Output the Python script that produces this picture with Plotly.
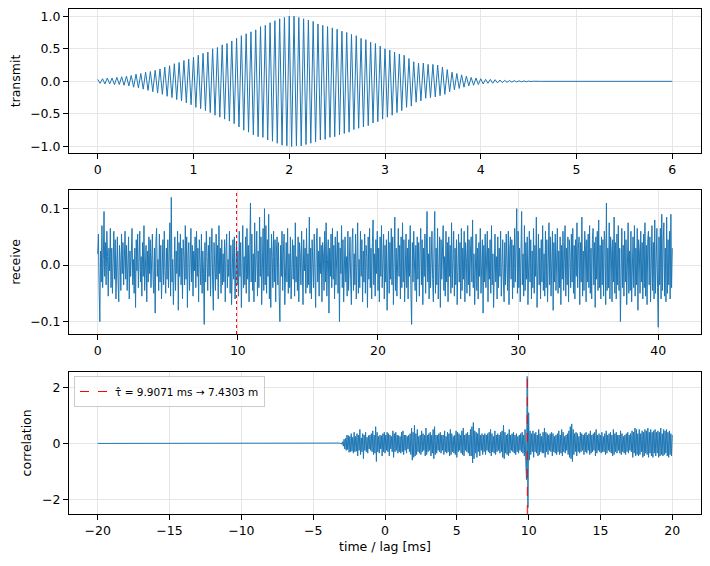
import numpy as np
import plotly.graph_objects as go
from plotly.subplots import make_subplots

# transmitted pulse, one value per half cycle (dt = 0.025 ms)
tx_dt = 0.025
tx_vals = [
    0.03, -0.03, 0.04, -0.04, 0.05, -0.04, 0.05, -0.05, 0.06, -0.05, 0.07, -0.06,
    0.08, -0.07, 0.09, -0.09, 0.11, -0.10, 0.12, -0.12, 0.14, -0.14, 0.15, -0.16,
    0.17, -0.18, 0.19, -0.20, 0.22, -0.23, 0.24, -0.25, 0.27, -0.28, 0.29, -0.30,
    0.32, -0.33, 0.34, -0.36, 0.37, -0.40, 0.40, -0.42, 0.43, -0.45, 0.45, -0.48,
    0.50, -0.52, 0.52, -0.55, 0.56, -0.58, 0.58, -0.61, 0.62, -0.65, 0.66, -0.70,
    0.70, -0.75, 0.73, -0.78, 0.76, -0.82, 0.79, -0.85, 0.84, -0.86, 0.86, -0.90,
    0.90, -0.92, 0.93, -0.95, 0.96, -0.98, 0.98, -0.99, 1.00, -1.00, 1.00, -0.99,
    0.98, -0.99, 0.96, -0.97, 0.94, -0.95, 0.92, -0.93, 0.88, -0.90, 0.86, -0.89,
    0.84, -0.86, 0.82, -0.85, 0.80, -0.82, 0.77, -0.80, 0.75, -0.78, 0.72, -0.74,
    0.70, -0.72, 0.66, -0.70, 0.64, -0.68, 0.60, -0.64, 0.58, -0.62, 0.54, -0.58,
    0.50, -0.55, 0.48, -0.52, 0.45, -0.48, 0.42, -0.45, 0.40, -0.40, 0.35, -0.38,
    0.30, -0.32, 0.28, -0.30, 0.28, -0.26, 0.26, -0.25, 0.26, -0.24, 0.25, -0.22,
    0.22, -0.20, 0.18, -0.16, 0.14, -0.13, 0.12, -0.11, 0.10, -0.09, 0.08, -0.07,
    0.06, -0.06, 0.05, -0.05, 0.04, -0.04, 0.03, -0.03, 0.03, -0.03, 0.025, -0.025,
    0.02, -0.02, 0.015, -0.015, 0.012, -0.012, 0.01, -0.01, 0.008, -0.007, 0.006, -0.005,
    0.004, -0.003, 0.002, -0.002,
    0.0, 0.0, 0.0, 0.0, 0.0, 0.0, 0.0, 0.0, 0.0, 0.0, 0.0, 0.0, 0.0, 0.0, 0.0, 0.0,
    0.0, 0.0, 0.0, 0.0, 0.0, 0.0, 0.0, 0.0, 0.0, 0.0, 0.0, 0.0, 0.0, 0.0, 0.0, 0.0,
    0.0, 0.0, 0.0, 0.0, 0.0, 0.0, 0.0, 0.0, 0.0, 0.0, 0.0, 0.0, 0.0, 0.0, 0.0, 0.0,
    0.0, 0.0, 0.0, 0.0, 0.0, 0.0, 0.0, 0.0, 0.0,
]

# received signal, 0.05 ms sampling (one row = 1 ms)
rx_dt = 0.05
rx_vals = [
    0.02, 0.055, -0.045, -0.1, 0.025, -0.03, 0.07, -0.04, 0.01, 0.095, -0.02, 0.04, -0.035, 0.06, 0.015, -0.055, 0.03, -0.01, 0.065, -0.04,
    0.03, -0.05, 0.005, 0.06, -0.025, 0.045, -0.06, 0.02, 0.05, -0.03, -0.065, 0.035, 0.01, -0.045, 0.055, -0.015, 0.04, -0.035, 0.02, 0.06,
    -0.025, 0.035, -0.045, 0.015, 0.05, -0.06, 0.025, -0.02, 0.04, 0.065, -0.035, 0.01, -0.05, 0.03, -0.075, 0.045, -0.01, 0.055, -0.04, 0.02,
    0.06, -0.03, 0.015, -0.055, 0.04, -0.02, 0.07, -0.045, 0.005, 0.035, -0.065, 0.025, -0.03, 0.05, -0.015, 0.045, -0.04, 0.02, 0.055, -0.025,
    -0.05, 0.03, -0.085, 0.04, 0.065, -0.02, 0.01, -0.045, 0.055, -0.03, 0.035, -0.06, 0.02, 0.045, -0.035, 0.06, -0.01, -0.05, 0.03, -0.025,
    0.045, -0.04, 0.02, 0.075, -0.055, 0.12, -0.03, 0.01, -0.07, 0.035, 0.05, -0.045, 0.025, -0.015, 0.06, -0.08, 0.04, -0.02, 0.055, -0.035,
    0.03, -0.06, 0.045, 0.015, -0.035, 0.07, -0.025, 0.05, -0.075, 0.02, 0.04, -0.045, 0.01, 0.065, -0.03, 0.035, -0.055, 0.025, -0.01, 0.05,
    -0.04, 0.06, -0.02, 0.03, -0.065, 0.045, 0.005, -0.035, 0.055, -0.05, 0.025, -0.015, -0.105, 0.04, -0.03, 0.06, 0.015, -0.045, 0.035, -0.02,
    0.05, -0.055, 0.02, 0.065, -0.03, -0.08, 0.04, 0.01, -0.045, 0.055, -0.025, 0.035, -0.06, 0.07, -0.015, 0.03, -0.05, 0.045, -0.035, 0.02,
    -0.03, 0.045, -0.065, 0.025, 0.055, -0.04, 0.01, -0.02, 0.06, -0.05, 0.035, -0.07, 0.03, 0.045, -0.025, 0.05, -0.06, 0.015, 0.04, -0.035,
    0.025, -0.055, 0.06, -0.02, 0.04, -0.075, 0.03, 0.07, -0.04, 0.015, -0.035, 0.05, -0.05, 0.065, -0.025, 0.035, -0.065, 0.045, 0.11, -0.03,
    0.055, -0.045, 0.02, -0.065, 0.075, -0.03, 0.04, 0.06, -0.055, 0.025, -0.04, 0.085, -0.02, 0.05, -0.07, 0.035, 0.065, -0.045, 0.1, -0.035,
    0.07, -0.05, 0.045, -0.02, 0.09, -0.06, 0.03, -0.075, 0.055, 0.015, -0.04, 0.06, -0.03, 0.045, -0.065, 0.025, 0.05, -0.035, 0.04, -0.055,
    -0.1, 0.035, -0.02, 0.06, -0.045, 0.025, 0.055, -0.07, 0.01, 0.04, -0.03, 0.065, -0.05, 0.02, -0.04, 0.05, -0.06, 0.03, 0.045, -0.025,
    0.035, -0.055, 0.075, -0.03, 0.015, -0.045, 0.05, -0.065, 0.04, 0.02, -0.035, 0.06, -0.02, -0.07, 0.045, -0.01, 0.03, -0.05, 0.065, -0.04,
    0.02, -0.035, 0.085, -0.05, 0.03, -0.06, 0.045, 0.01, -0.04, 0.055, -0.025, -0.075, 0.04, 0.065, -0.03, 0.025, -0.055, 0.05, -0.015, 0.035,
    -0.065, 0.04, 0.02, -0.045, 0.06, -0.03, 0.075, -0.055, 0.01, 0.045, -0.085, 0.03, -0.02, 0.055, -0.04, 0.065, -0.025, 0.035, -0.06, 0.05,
    -0.035, 0.02, 0.06, -0.05, 0.04, -0.1, 0.03, -0.015, 0.07, -0.04, 0.045, -0.065, 0.025, 0.05, -0.03, 0.015, -0.055, 0.06, -0.045, 0.035,
    0.05, -0.025, -0.07, 0.04, 0.065, -0.045, 0.02, -0.035, 0.055, -0.06, 0.03, 0.075, -0.05, 0.01, -0.04, 0.06, -0.02, 0.045, -0.065, 0.025,
    -0.03, 0.055, -0.05, 0.035, 0.015, -0.075, 0.05, -0.025, 0.065, -0.04, 0.03, -0.06, 0.04, 0.08, -0.035, 0.02, -0.055, 0.045, -0.015, 0.06,
    -0.045, 0.03, -0.065, 0.05, -0.02, 0.07, -0.04, 0.015, 0.055, -0.06, 0.035, -0.03, 0.045, -0.08, 0.025, 0.06, -0.05, 0.04, -0.025, 0.065,
    -0.035, 0.05, -0.07, 0.02, 0.085, -0.045, 0.03, -0.055, 0.04, 0.065, -0.02, 0.035, -0.06, 0.05, -0.04, 0.075, -0.03, 0.045, -0.065, 0.025,
    0.055, -0.04, 0.03, -0.06, 0.045, -0.02, 0.07, -0.05, -0.105, 0.04, -0.03, 0.06, 0.015, -0.045, 0.035, -0.065, 0.05, -0.025, 0.04, -0.055,
    0.025, 0.065, -0.035, 0.045, -0.07, 0.03, -0.02, 0.055, -0.05, 0.04, 0.095, -0.03, 0.02, -0.06, 0.05, -0.04, 0.035, 0.06, -0.025, -0.065,
    0.04, 0.095, -0.05, 0.03, -0.035, 0.065, -0.06, 0.02, 0.05, -0.075, 0.045, -0.025, 0.035, 0.07, -0.045, 0.015, -0.055, 0.06, -0.03, 0.04,
    -0.065, 0.05, -0.02, 0.035, -0.05, 0.075, -0.04, 0.025, 0.06, -0.055, 0.03, -0.035, 0.045, -0.07, 0.02, 0.055, -0.03, 0.04, -0.06, 0.065,
    -0.045, 0.03, -0.025, 0.06, -0.065, 0.04, 0.015, -0.05, 0.07, -0.035, 0.045, -0.055, 0.025, 0.05, -0.03, 0.08, -0.04, 0.02, -0.07, 0.035,
    0.055, -0.045, 0.03, -0.06, 0.04, -0.02, 0.065, -0.05, 0.025, 0.045, -0.085, 0.035, -0.03, 0.055, -0.04, 0.02, 0.06, -0.065, 0.03, -0.025,
    0.045, -0.05, 0.07, -0.035, 0.02, -0.075, 0.04, 0.055, -0.03, 0.015, -0.06, 0.05, -0.04, 0.03, -0.02, 0.06, -0.055, 0.035, 0.045, -0.03,
    -0.065, 0.04, -0.035, 0.055, 0.02, -0.045, 0.06, -0.07, 0.03, 0.05, -0.025, 0.045, -0.06, 0.035, -0.04, 0.065, -0.03, 0.02, 0.1, -0.05,
    0.06, -0.04, 0.03, -0.065, 0.045, 0.095, -0.035, 0.02, -0.055, 0.07, -0.045, 0.04, -0.025, 0.05, -0.07, 0.035, 0.06, -0.03, 0.045, -0.06,
    0.025, -0.04, 0.065, -0.05, 0.035, -0.02, 0.085, -0.075, 0.04, 0.055, -0.035, 0.03, -0.06, 0.045, -0.03, 0.07, -0.045, 0.02, -0.055, 0.06,
    -0.04, 0.045, -0.065, 0.03, 0.075, -0.035, 0.05, -0.055, 0.02, 0.06, -0.08, 0.04, -0.03, 0.055, -0.045, 0.035, 0.065, -0.05, 0.025, -0.04,
    0.05, -0.07, 0.035, -0.025, 0.06, -0.045, 0.04, 0.07, -0.055, 0.03, -0.035, 0.05, -0.065, 0.045, 0.02, -0.04, 0.055, -0.03, 0.065, -0.05,
    0.035, -0.06, 0.045, -0.02, 0.075, -0.04, 0.03, 0.05, -0.07, 0.04, -0.03, 0.085, -0.055, 0.025, -0.045, 0.06, 0.035, -0.065, 0.045, -0.03,
    0.055, -0.04, 0.07, -0.05, 0.03, -0.06, 0.045, 0.065, -0.035, 0.04, -0.075, 0.05, -0.025, 0.06, -0.045, 0.08, -0.04, 0.035, -0.06, 0.05,
    -0.035, 0.045, -0.055, 0.06, 0.04, -0.07, 0.11, -0.045, 0.03, -0.04, 0.075, -0.06, 0.05, 0.025, -0.065, 0.045, -0.03, 0.085, -0.05, 0.04,
    -0.06, 0.055, -0.035, 0.07, -0.045, 0.03, -0.1, 0.05, 0.065, -0.04, 0.035, -0.055, 0.06, -0.03, 0.045, -0.07, 0.04, 0.075, -0.05, 0.025,
    -0.045, 0.06, -0.065, 0.035, 0.05, -0.04, 0.07, -0.055, 0.03, -0.035, 0.065, -0.08, 0.045, 0.025, -0.05, 0.06, -0.03, 0.04, -0.06, 0.055,
    -0.04, 0.075, -0.055, 0.035, -0.07, 0.045, 0.06, -0.035, 0.05, -0.065, 0.03, 0.07, -0.045, 0.04, -0.06, 0.08, -0.05, 0.035, 0.065, -0.04,
    -0.11, 0.05, -0.035, 0.065, -0.06, 0.09, -0.045, 0.04, 0.075, -0.055, 0.03, -0.065, 0.085, -0.05, 0.045, -0.035, 0.06, -0.06, 0.09, -0.04,
    0.03,
]

# cross-correlation: flat from -20 ms, then 0.05 ms samples from -4 ms (one row = 1 ms)
corr_start = -20.0
corr_dense_from = -4.0
corr_dt = 0.05
corr_vals = [
    0.0, 0.001, -0.001, 0.002, -0.002, 0.002, -0.003, 0.003, -0.004, 0.004, -0.005, 0.006, -0.006, 0.008, -0.008, 0.01, -0.01, 0.012, -0.015, 0.02,
    -0.03, 0.06, -0.1, 0.15, -0.2, 0.18, -0.25, 0.3, -0.22, 0.28, -0.32, 0.25, -0.3, 0.35, -0.28, 0.22, -0.35, 0.4, -0.3, 0.25,
    -0.28, 0.35, -0.45, 0.3, -0.25, 0.5, -0.4, 0.2, -0.3, 0.35, -0.55, 0.3, -0.25, 0.4, -0.3, 0.22, -0.35, 0.28, -0.2, 0.3,
    -0.25, 0.35, -0.3, 0.45, -0.4, 0.3, -0.35, 0.6, -0.65, 0.4, -0.3, 0.25, -0.35, 0.3, -0.2, 0.28, -0.45, 0.35, -0.3, 0.4,
    -0.35, 0.3, -0.25, 0.4, -0.3, 0.35, -0.45, 0.3, -0.2, 0.25, -0.3, 0.45, -0.5, 0.35, -0.3, 0.4, -0.25, 0.3, -0.35, 0.28,
    -0.3, 0.25, -0.35, 0.4, -0.3, 0.45, -0.4, 0.3, -0.25, 0.3, -0.35, 0.25, -0.2, 0.3, -0.3, 0.35, -0.4, 0.55, -0.6, 0.4,
    -0.5, 0.65, -0.45, 0.35, -0.4, 0.5, -0.3, 0.25, -0.35, 0.3, -0.4, 0.45, -0.3, 0.35, -0.25, 0.3, -0.45, 0.55, -0.4, 0.3,
    -0.3, 0.35, -0.25, 0.4, -0.45, 0.3, -0.35, 0.5, -0.55, 0.6, -0.4, 0.3, -0.35, 0.3, -0.25, 0.35, -0.3, 0.4, -0.35, 0.3,
    -0.25, 0.3, -0.4, 0.45, -0.3, 0.25, -0.35, 0.4, -0.3, 0.35, -0.45, 0.5, -0.4, 0.35, -0.3, 0.25, -0.35, 0.3, -0.4, 0.45,
    -0.5, 0.4, -0.3, 0.35, -0.25, 0.3, -0.35, 0.45, -0.4, 0.55, -0.45, 0.3, -0.25, 0.35, -0.3, 0.4, -0.35, 0.3, -0.45, 0.5,
    -0.45, 0.6, -0.7, 0.75, -0.55, 0.45, -0.35, 0.4, -0.5, 0.35, -0.3, 0.55, -0.45, 0.3, -0.25, 0.35, -0.4, 0.3, -0.3, 0.35,
    -0.4, 0.3, -0.25, 0.35, -0.3, 0.4, -0.35, 0.5, -0.45, 0.35, -0.3, 0.25, -0.35, 0.45, -0.4, 0.3, -0.3, 0.35, -0.25, 0.3,
    -0.35, 0.4, -0.3, 0.45, -0.5, 0.65, -0.55, 0.4, -0.35, 0.3, -0.4, 0.35, -0.45, 0.5, -0.35, 0.3, -0.25, 0.35, -0.3, 0.4,
    -0.35, 0.3, -0.4, 0.35, -0.3, 0.25, -0.35, 0.3, -0.25, 0.35, -0.3, 0.4, -0.35, 0.3, -0.45, 0.5, -0.6, -1.3, 2.4, -2.3,
    1.1, -0.6, 0.45, -0.4, 0.35, -0.3, 0.45, -0.5, 0.35, -0.3, 0.4, -0.35, 0.3, -0.45, 0.5, -0.4, 0.35, -0.3, 0.25, -0.35,
    0.4, -0.35, 0.55, -0.5, 0.4, -0.3, 0.35, -0.4, 0.3, -0.25, 0.35, -0.3, 0.4, -0.45, 0.35, -0.3, 0.25, -0.35, 0.3, -0.4,
    0.35, -0.3, 0.45, -0.4, 0.3, -0.35, 0.5, -0.45, 0.4, -0.3, 0.25, -0.35, 0.3, -0.25, 0.35, -0.4, 0.45, -0.5, 0.6, -0.55,
    0.7, -0.65, 0.5, -0.4, 0.35, -0.3, 0.4, -0.45, 0.35, -0.3, 0.25, -0.35, 0.4, -0.3, 0.35, -0.25, 0.3, -0.4, 0.35, -0.3,
    0.4, -0.35, 0.3, -0.25, 0.35, -0.4, 0.45, -0.35, 0.3, -0.3, 0.35, -0.25, 0.4, -0.45, 0.5, -0.35, 0.3, -0.25, 0.35, -0.3,
    0.3, -0.35, 0.4, -0.3, 0.25, -0.3, 0.35, -0.4, 0.45, -0.35, 0.3, -0.25, 0.35, -0.3, 0.4, -0.35, 0.3, -0.45, 0.5, -0.4,
    0.35, -0.3, 0.4, -0.35, 0.3, -0.25, 0.3, -0.35, 0.45, -0.4, 0.35, -0.3, 0.25, -0.35, 0.3, -0.4, 0.35, -0.3, 0.4, -0.35,
    0.3, -0.25, 0.35, -0.3, 0.45, -0.5, 0.4, -0.35, 0.55, -0.45, 0.5, -0.4, 0.35, -0.45, 0.5, -0.4, 0.35, -0.3, 0.45, -0.5,
    0.4, -0.45, 0.5, -0.35, 0.45, -0.4, 0.55, -0.5, 0.4, -0.35, 0.5, -0.45, 0.4, -0.5, 0.45, -0.35, 0.5, -0.45, 0.4, -0.35,
    0.45, -0.5, 0.4, -0.45, 0.55, -0.4, 0.35, -0.45, 0.5, -0.4, 0.45, -0.35, 0.5, -0.45, 0.4, -0.5, 0.45, -0.4, 0.35, -0.45,
    0.3,
]

tau_ms = 9.9071
dist_m = 7.4303

t_tx = np.round(np.arange(len(tx_vals)) * tx_dt, 4)
t_rx = np.round(np.arange(len(rx_vals)) * rx_dt, 4)
lag = np.concatenate([[corr_start], np.round(corr_dense_from + np.arange(len(corr_vals)) * corr_dt, 4)])
corr_y = [0.0] + corr_vals

blue = "#1f77b4"
# the page body adds 8px around the plot div, so draw 8px smaller and shift
W, H = 702, 558
off = 8

fig = make_subplots(rows=3, cols=1)
fig.add_trace(go.Scatter(x=t_tx, y=tx_vals, mode="lines", line=dict(color=blue, width=1), showlegend=False), row=1, col=1)
fig.add_trace(go.Scatter(x=t_rx, y=rx_vals, mode="lines", line=dict(color=blue, width=1), showlegend=False), row=2, col=1)
fig.add_trace(go.Scatter(x=lag, y=corr_y, mode="lines", line=dict(color=blue, width=1), showlegend=False), row=3, col=1)

fig.add_vline(x=tau_ms, line=dict(color="red", dash="dot", width=1), row=2, col=1)
fig.add_vline(x=tau_ms, line=dict(color="red", dash="dash", width=1), row=3, col=1,
              showlegend=True, name="τ̂ = %.4f ms → %.4f m" % (tau_ms, dist_m))

# pixel boxes of the three axes in the 710x566 window (top, bottom)
xl, xr = 69 - off, 701 - off
boxes = [(9, 153), (190, 334), (371.7, 514)]
for i, (top, bot) in enumerate(boxes, start=1):
    fig.update_xaxes(domain=[xl / W, xr / W], row=i, col=1)
    fig.update_yaxes(domain=[(H - (bot - off)) / H, (H - (top - off)) / H], row=i, col=1)

fs = 12.5
axis_style = dict(showline=True, mirror=True, linecolor="black", linewidth=1,
                  ticks="outside", ticklen=5, tickcolor="black", showgrid=True,
                  gridcolor="#e6e6e6", gridwidth=1, zeroline=False, automargin=False,
                  tickfont=dict(size=fs, color="black"))
fig.update_xaxes(**axis_style)
fig.update_yaxes(**axis_style)

fig.update_xaxes(range=[-0.3, 6.3], tickvals=[0, 1, 2, 3, 4, 5, 6], row=1, col=1)
fig.update_yaxes(range=[-1.1, 1.11], tickvals=[-1.0, -0.5, 0.0, 0.5, 1.0], tickformat=".1f",
                 title=dict(text="transmit", font=dict(size=fs), standoff=7), row=1, col=1)
fig.update_xaxes(range=[-2.05, 43.05], tickvals=[0, 10, 20, 30, 40], row=2, col=1)
fig.update_yaxes(range=[-0.122, 0.133], tickvals=[-0.1, 0.0, 0.1], tickformat=".1f",
                 title=dict(text="receive", font=dict(size=fs), standoff=7), row=2, col=1)
fig.update_xaxes(range=[-22, 22], tickvals=[-20, -15, -10, -5, 0, 5, 10, 15, 20],
                 title=dict(text="time / lag [ms]", font=dict(size=fs), standoff=5), row=3, col=1)
fig.update_yaxes(range=[-2.53, 2.57], tickvals=[-2, 0, 2],
                 title=dict(text="correlation", font=dict(size=fs), standoff=7), row=3, col=1)

fig.update_layout(
    width=W, height=H,
    margin=dict(l=0, r=0, t=0, b=0),
    paper_bgcolor="white", plot_bgcolor="white",
    font=dict(family="DejaVu Sans", size=fs, color="black"),
    legend=dict(x=(74 - off) / W, y=(H - (376 - off)) / H, xanchor="left", yanchor="top",
                bgcolor="rgba(255,255,255,0.8)", bordercolor="#cccccc", borderwidth=1,
                font=dict(size=10.5)),
)

fig.write_html("out.html")
